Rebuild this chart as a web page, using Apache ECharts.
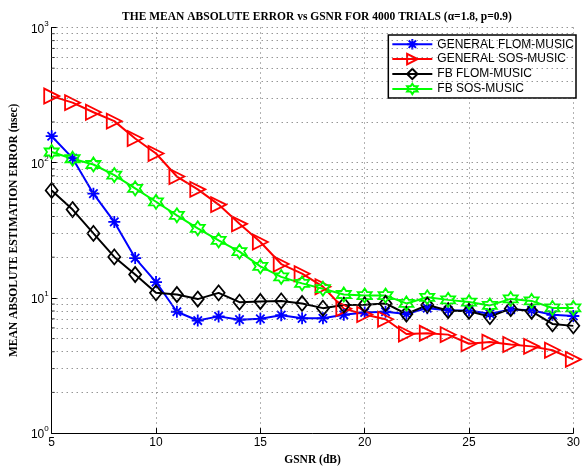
<!DOCTYPE html>
<html>
<head>
<meta charset="utf-8">
<script src="https://cdn.jsdelivr.net/npm/echarts@6/dist/echarts.min.js"></script>
<style>
  html, body { margin: 0; padding: 0; background: #fff; }
  #chart { width: 583px; height: 471px; }
</style>
</head>
<body>
<div id="chart"></div>
<script>
const gsnr = [5, 6, 7, 8, 9, 10, 11, 12, 13, 14, 15, 16, 17, 18, 19, 20, 21, 22, 23, 24, 25, 26, 27, 28, 29, 30]
const flomGeneral = [157, 108, 59, 36.5, 19.7, 13.1, 7.9, 6.8, 7.3, 6.9, 7.0, 7.45, 7.06, 7.06, 7.5, 7.8, 7.9, 7.6, 8.4, 8.1, 8.06, 7.63, 8.2, 8.1, 7.5, 7.35]
const sosGeneral = [311, 278, 236, 203, 151, 117, 79, 63.5, 49, 35.3, 25.9, 17.8, 15.1, 12.1, 8.33, 7.54, 6.95, 5.41, 5.47, 5.35, 4.58, 4.71, 4.52, 4.38, 4.1, 3.51]
const flomFb = [62.4, 45, 30, 20.1, 14.9, 10.9, 10.6, 9.8, 10.9, 9.3, 9.4, 9.5, 9.1, 8.4, 8.85, 8.9, 9.1, 7.6, 8.85, 8.06, 7.96, 7.27, 8.33, 7.96, 6.42, 6.21]
const sosFb = [120, 107, 97, 81, 64.5, 51.4, 40.8, 32.7, 26.6, 22, 17.1, 14.3, 12.8, 11.7, 10.6, 10.4, 10.4, 9.1, 10.1, 9.67, 9.31, 8.8, 9.83, 9.5, 8.43, 8.43]
const seriesNames = ['GENERAL FLOM-MUSIC', 'GENERAL SOS-MUSIC', 'FB FLOM-MUSIC', 'FB SOS-MUSIC']
// log minor grid positions (2..9 of each decade)
const minorGrid = [2, 3, 4, 5, 6, 7, 8, 9, 20, 30, 40, 50, 60, 70, 80, 90, 200, 300, 400, 500, 600, 700, 800, 900]

const SERIF = '"Liberation Serif", "DejaVu Serif", serif'
const SANS = '"Liberation Sans", Arial, sans-serif'
const GRID_COLOR = '#666'

const ASTERISK = 'path://M0,-1L0,1M-1,0L1,0M-0.7,-0.7L0.7,0.7M-0.7,0.7L0.7,-0.7'
const HEXAGRAM = 'path://M0,-1L0.2887,-0.5L0.866,-0.5L0.5774,0L0.866,0.5L0.2887,0.5L0,1L-0.2887,0.5L-0.866,0.5L-0.5774,0L-0.866,-0.5L-0.2887,-0.5Z'

const pairs = (ys) => gsnr.map((x, i) => [x, ys[i]])

const makeSeries = (name, ys, color, symbol, size, rotate) => ({
  name,
  type: 'line',
  data: pairs(ys),
  symbol,
  symbolSize: size,
  symbolRotate: rotate || 0,
  lineStyle: { color, width: 2 },
  itemStyle: { color: 'rgba(0,0,0,0)', borderColor: color, borderWidth: 1.8 },
  emphasis: { disabled: true },
  z: 3
})

const chart = echarts.init(document.getElementById('chart'), null, { renderer: 'canvas' })

chart.setOption({
  animation: false,
  backgroundColor: '#fff',
  title: {
    text: 'THE MEAN ABSOLUTE ERROR vs GSNR FOR 4000 TRIALS (\u03b1=1.8, p=0.9)',
    left: 312,
    textAlign: 'center',
    top: 6,
    textStyle: { fontFamily: SERIF, fontWeight: 'bold', fontSize: 11.5, color: '#000' }
  },
  legend: {
    data: seriesNames,
    orient: 'vertical',
    right: 7,
    top: 35,
    padding: [3, 2, 3, 3],
    itemGap: 2.5,
    itemWidth: 40,
    itemHeight: 13,
    backgroundColor: '#fff',
    borderColor: '#000',
    borderWidth: 1.5,
    borderRadius: 0,
    textStyle: { fontFamily: SANS, fontSize: 12, color: '#000' }
  },
  grid: { left: 49, right: 8, top: 27.5, bottom: 29.3 },
  xAxis: {
    type: 'value',
    min: 5,
    max: 30,
    interval: 5,
    name: 'GSNR (dB)',
    nameLocation: 'middle',
    nameGap: 16,
    nameTextStyle: { fontFamily: SERIF, fontWeight: 'bold', fontSize: 11.5, color: '#000' },
    axisLine: { lineStyle: { color: '#000', width: 1 } },
    axisTick: { inside: true, length: 5, lineStyle: { color: '#000' } },
    axisLabel: { fontFamily: SANS, fontSize: 12, color: '#000', margin: 4 },
    splitLine: { show: true, lineStyle: { color: GRID_COLOR, type: [1, 4], width: 1 } }
  },
  yAxis: {
    type: 'log',
    logBase: 10,
    min: 1,
    max: 1000,
    interval: 1,
    name: 'MEAN ABSOLUTE ESTIMATION ERROR (nsec)',
    nameLocation: 'middle',
    nameGap: 30,
    nameTextStyle: { fontFamily: SERIF, fontWeight: 'bold', fontSize: 11.5, color: '#000' },
    axisLine: { show: true, lineStyle: { color: '#000', width: 1 } },
    axisTick: { show: true, inside: true, length: 5, lineStyle: { color: '#000' } },
    axisLabel: {
      margin: 3,
      formatter: (v) => '{b|10}{s|' + Math.round(Math.log10(v)) + '}',
      rich: {
        b: { fontFamily: SANS, fontSize: 12, color: '#000', verticalAlign: 'bottom' },
        s: { fontFamily: SANS, fontSize: 8, color: '#000', verticalAlign: 'top', padding: [0, 0, 8, 0] }
      }
    },
    splitLine: { show: true, lineStyle: { color: GRID_COLOR, type: [1, 4], width: 1 } }
  },
  series: [
    {
      name: 'minor-grid',
      type: 'line',
      data: [],
      silent: true,
      z: 1,
      markLine: {
        silent: true,
        symbol: ['none', 'none'],
        label: { show: false },
        emphasis: { disabled: true },
        animation: false,
        lineStyle: { color: GRID_COLOR, type: [1, 4], width: 1 },
        data: minorGrid.map((v) => ({ yAxis: v }))
      }
    },
    {
      // minor tick marks along the left axis
      name: 'minor-ticks',
      type: 'scatter',
      data: minorGrid.map((v) => [gsnr[0], v]),
      symbol: 'rect',
      symbolSize: [3, 1],
      symbolOffset: [1.5, 0],
      itemStyle: { color: '#000' },
      silent: true,
      z: 2
    },
    makeSeries(seriesNames[0], flomGeneral, '#0000ff', ASTERISK, 12),
    makeSeries(seriesNames[1], sosGeneral, '#ff0000', 'triangle', 15, -90),
    makeSeries(seriesNames[2], flomFb, '#000000', 'diamond', [12, 15]),
    makeSeries(seriesNames[3], sosFb, '#00ff00', HEXAGRAM, 14)
  ]
})
</script>
</body>
</html>
